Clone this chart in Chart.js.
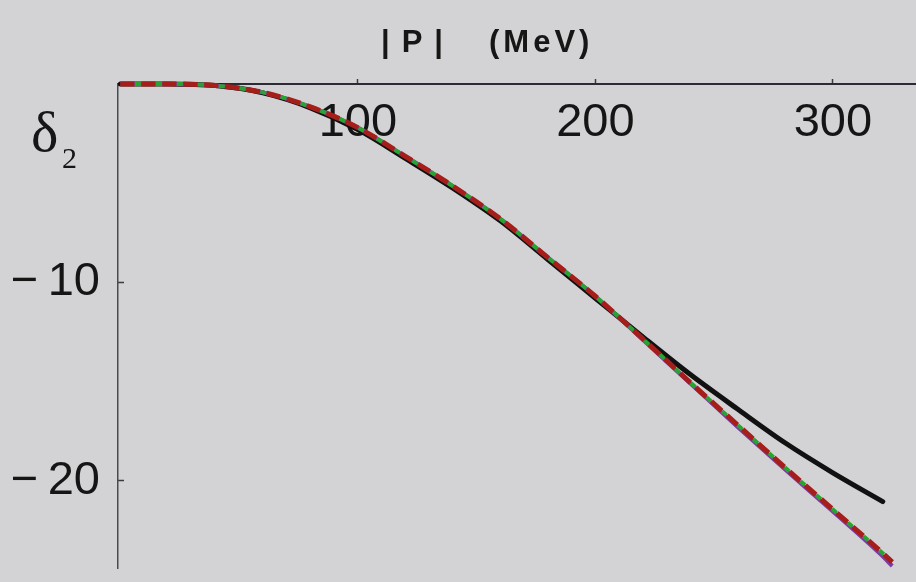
<!DOCTYPE html>
<html>
<head>
<meta charset="utf-8">
<script src="https://cdn.jsdelivr.net/npm/chart.js@4.4.1/dist/chart.umd.min.js"></script>
<style>
    html, body { margin: 0; padding: 0; background: #d3d3d5; }
    #marco { position: relative; width: 916px; height: 582px; overflow: hidden; }
    #grafica { position: absolute; left: 0; top: 0; }
    .texto { position: absolute; color: #161616; white-space: pre; line-height: 1; }
</style>
</head>
<body>
<div id="marco">
    <canvas id="grafica" width="916" height="582"></canvas>
    <div class="texto" style="left:381px; top:24px; font:bold 31px 'Liberation Sans'; letter-spacing:12px;">|P|</div>
    <div class="texto" style="left:489px; top:24px; font:bold 31px 'Liberation Sans'; letter-spacing:4px;">(MeV)</div>
    <div class="texto" style="left:31px; top:98px; font:58px 'Liberation Serif';">δ</div>
    <div class="texto" style="left:62px; top:141px; font:30px 'Liberation Serif';">2</div>
</div>
<script>
// |P| en MeV, curva negra (solida)
const momentoNegro = [0, 20, 40, 60, 80, 100, 120, 140, 160, 180, 200, 220, 240, 260, 280, 300, 321];
const deltaNegro = [0, 0, -0.08, -0.45, -1.2, -2.3, -3.75, -5.25, -6.9, -8.85, -10.8, -12.75, -14.65, -16.4, -18.1, -19.6, -21.05];

// curvas discontinuas (roja, verde, morada) casi superpuestas
const momentoDisc = [0, 20, 40, 60, 80, 100, 120, 140, 160, 180, 200, 220, 240, 260, 280, 300, 320, 325];
const deltaRojo = [0, 0, -0.08, -0.42, -1.15, -2.2, -3.65, -5.15, -6.8, -8.75, -10.7, -12.85, -15.05, -17.2, -19.35, -21.45, -23.55, -24.1];
const deltaVerde = [0, 0, -0.08, -0.42, -1.15, -2.2, -3.65, -5.15, -6.8, -8.75, -10.7, -12.85, -15.05, -17.2, -19.35, -21.45, -23.55, -24.1];
const deltaMorado = [0, 0, -0.08, -0.42, -1.15, -2.2, -3.65, -5.15, -6.8, -8.75, -10.7, -12.9, -15.1, -17.3, -19.45, -21.55, -23.7, -24.3];

const ticksX = [100, 200, 300];
const ticksY = [-10, -20];

function puntos(xs, ys) {
    return xs.map((x, i) => ({ x: x, y: ys[i] }));
}

const ctx = document.getElementById('grafica').getContext('2d');
const grafica = new Chart(ctx, {
    type: 'line',
    data: {
        datasets: [
            {
                label: 'verde',
                data: puntos(momentoDisc, deltaVerde),
                borderColor: 'rgb(40, 165, 45)',
                borderWidth: 4,
                borderDash: [6, 15],
                borderDashOffset: -14.5,
                borderCapStyle: 'butt'
            },
            {
                label: 'rojo',
                data: puntos(momentoDisc, deltaRojo),
                borderColor: 'rgb(165, 30, 25)',
                borderWidth: 5,
                borderDash: [14, 7],
                borderCapStyle: 'butt'
            },
            {
                label: 'morado',
                data: puntos(momentoDisc, deltaMorado),
                borderColor: 'rgb(125, 60, 165)',
                borderWidth: 4
            },
            {
                label: 'negro',
                data: puntos(momentoNegro, deltaNegro),
                borderColor: '#111111',
                borderWidth: 5,
                borderCapStyle: 'round'
            }
        ]
    },
    options: {
        responsive: false,
        animation: false,
        layout: { padding: { left: 0, top: 84, right: 0, bottom: 14 } },
        elements: {
            point: { radius: 0 },
            line: { cubicInterpolationMode: 'monotone', fill: false }
        },
        datasets: { line: { clip: 10 } },
        plugins: {
            legend: { display: false },
            tooltip: { enabled: false },
            title: { display: false }
        },
        scales: {
            x: {
                type: 'linear',
                position: { y: 0 },
                min: -1,
                max: 335,
                afterFit: function (scale) {
                    scale.height = 0;
                    scale.paddingLeft = 0;
                    scale.paddingRight = 0;
                },
                afterBuildTicks: function (scale) { scale.ticks = ticksX.map(v => ({ value: v })); },
                grid: { drawOnChartArea: false, drawTicks: true, tickLength: -6, color: '#3a3a40', tickWidth: 1.5 },
                border: { color: '#2b2b35', width: 2 },
                ticks: {
                    padding: 17,
                    color: '#151515',
                    font: { family: 'Liberation Sans', size: 47 },
                    maxRotation: 0,
                    autoSkip: false
                }
            },
            y: {
                type: 'linear',
                position: 'left',
                min: -24.4,
                max: 0,
                afterFit: function (scale) {
                    scale.width = 118;
                    scale.paddingTop = 0;
                    scale.paddingBottom = 0;
                },
                afterBuildTicks: function (scale) { scale.ticks = ticksY.map(v => ({ value: v })); },
                grid: { drawOnChartArea: false, drawTicks: true, tickLength: -6, color: '#3a3a40', tickWidth: 1.5 },
                border: { color: '#4a4a50', width: 1.5 },
                ticks: {
                    padding: 24,
                    color: '#151515',
                    font: { family: 'Liberation Sans', size: 47 },
                    autoSkip: false,
                    callback: function (v) { return '\u2212\u2009' + Math.abs(v); }
                }
            }
        }
    }
});
</script>
</body>
</html>
